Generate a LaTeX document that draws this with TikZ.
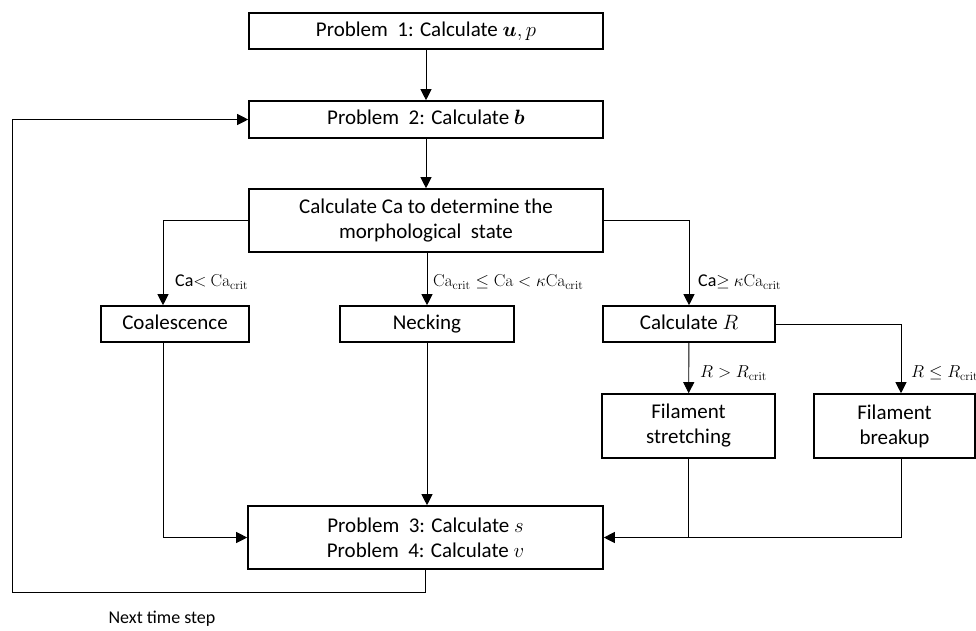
\documentclass[tikz,border=0pt]{standalone}
\usepackage{amsmath,bm}
\usepackage[no-math]{fontspec}
\setmainfont{Carlito}
\usetikzlibrary{arrows.meta}
\begin{document}
\begin{tikzpicture}[x=1pt,y=-1pt,
  box/.style={draw, line width=1.6pt, inner sep=0pt, align=center,
    font=\fontsize{21}{25}\selectfont},
  conn/.style={line width=0.9pt},
  arr/.style={conn, -{Triangle[length=11pt,width=11pt]}},
  lbl/.style={anchor=west, inner sep=0pt, font=\fontsize{18}{21}\selectfont}]
\useasboundingbox (0,0) rectangle (976,630);
\node[box, minimum width=354, minimum height=36] (p1) at (426,31) {\strut Problem\ \ 1: Calculate $\bm{u},p$};
\node[box, minimum width=354, minimum height=37] (p2) at (426,119.5) {\strut Problem\ \ 2: Calculate $\bm{b}$};
\node[box, minimum width=354, minimum height=63] (ca) at (426,220.5) {Calculate Ca to determine the\\morphological\ \ state};
\node[box, minimum width=148, minimum height=36] (coal) at (175,324) {\strut Coalescence};
\node[box, minimum width=174, minimum height=36] (neck) at (427,324) {\strut Necking};
\node[box, minimum width=172, minimum height=36] (calcR) at (689,324) {\strut Calculate $R$};
\node[box, minimum width=173, minimum height=64] (fs) at (688.5,426) {Filament\\stretching};
\node[box, minimum width=161, minimum height=64] (fb) at (894.5,426) {Filament\\breakup};
\node[box, minimum width=355, minimum height=63] (p34) at (425.5,537.5) {Problem\ \ 3: Calculate $s$\\Problem\ \ 4: Calculate $v$};
\coordinate (lc) at (12,592);

\draw[arr] (p1) -- (p2);
\draw[arr] (p2) -- (ca);
\draw[arr] (ca.west) -| ([xshift=-12pt]coal.north);
\draw[arr] (ca.south -| neck.north) -- (neck.north);
\draw[arr] (ca.east) -| (calcR.north);
\draw[arr] (calcR) -- (fs);
\draw[arr] (calcR.east) -| ([xshift=6.5pt]fb.north);
\draw[arr] ([xshift=-12pt]coal.south) |- (p34.west);
\draw[arr] (neck.south) -- (neck.south |- p34.north);
\draw[conn] (fs.south) -- (fs.south |- p34.east);
\draw[arr] ([xshift=6.5pt]fb.south) |- (p34.east);
\draw[arr] (p34.south) |- (lc) |- (p2.west);

\node[lbl] (l1) at (175,282) {Ca$<$ $\mathrm{Ca}_{\mathrm{crit}}$};
\node[lbl] (l2) at (433,282) {$\mathrm{Ca}_{\mathrm{crit}}\leq\mathrm{Ca}<\kappa\mathrm{Ca}_{\mathrm{crit}}$};
\node[lbl] (l3) at (698,282) {Ca$\geq$ $\kappa\mathrm{Ca}_{\mathrm{crit}}$};
\node[lbl] (l4) at (700,373) {$R>R_{\mathrm{crit}}$};
\node[lbl] (l5) at (911,373) {$R\leq R_{\mathrm{crit}}$};
\node[inner sep=0pt, font=\fontsize{18}{21}\selectfont] (nts) at (162,619) {Next time step};
\end{tikzpicture}
\end{document}
